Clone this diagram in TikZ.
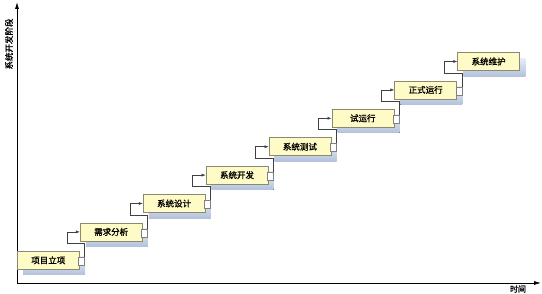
\documentclass[tikz,border=0pt]{standalone}
\usepackage{fontspec}
\newfontfamily\cjk{Noto Sans CJK SC}[AutoFakeBold=1.2]
\usetikzlibrary{arrows.meta}
\definecolor{boxfill}{HTML}{FFFBC6}
\definecolor{boxline}{HTML}{8A8A72}
\definecolor{shadetop}{HTML}{E8EDF6}
\definecolor{shadebot}{HTML}{B2C1DB}
\begin{document}
\begin{tikzpicture}[x=1pt,y=1pt,
  stagebox/.style={draw=boxline,fill=boxfill,line width=0.6pt,minimum width=62pt,minimum height=18pt,inner sep=0pt,anchor=north west,font=\cjk\bfseries\fontsize{8.5}{9}\selectfont},
  stageshadow/.style={top color=shadetop,bottom color=shadebot,draw=none},
  stagetab/.style={draw=gray,fill=white,line width=0.5pt,minimum width=6pt,minimum height=8pt,inner sep=0pt,anchor=north east},
  link/.style={draw=black!75,line width=0.5pt,-{Latex[length=4pt,width=3pt]}},
  axis/.style={black,line width=0.8pt,-{Latex[length=7pt,width=4pt]}}]
\useasboundingbox (0,0) rectangle (542,294);
% axes
\coordinate (o) at (17,11);
\coordinate (ytop) at (17,292);
\coordinate (xend) at (541,11);
\draw[axis] (o) -- (ytop);
\draw[axis] (o) -- (xend);
\node[font=\cjk\bfseries\fontsize{8.5}{9}\selectfont,rotate=90,inner sep=0pt] (ylab) at (9,250) {系统开发阶段};
\node[font=\cjk\bfseries\fontsize{8}{9}\selectfont,inner sep=0pt] (xlab) at (518,5) {时间};
% shadows
\fill[stageshadow] (23,19) rectangle (85,37);
\fill[stageshadow] (85.9,47.4) rectangle (147.9,65.4);
\fill[stageshadow] (148.8,75.8) rectangle (210.8,93.8);
\fill[stageshadow] (211.7,104.2) rectangle (273.7,122.2);
\fill[stageshadow] (274.6,132.6) rectangle (336.6,150.6);
\fill[stageshadow] (337.5,161) rectangle (399.5,179);
\fill[stageshadow] (400.4,189.4) rectangle (462.4,207.4);
\fill[stageshadow] (463.3,217.8) rectangle (525.3,235.8);
% stages
\node[stagebox] (s1) at (17,43) {项目立项};
\node[stagebox] (s2) at (79.9,71.4) {需求分析};
\node[stagebox] (s3) at (142.8,99.8) {系统设计};
\node[stagebox] (s4) at (205.7,128.2) {系统开发};
\node[stagebox] (s5) at (268.6,156.6) {系统测试};
\node[stagebox] (s6) at (331.5,185) {试运行};
\node[stagebox] (s7) at (394.4,213.4) {正式运行};
\node[stagebox] (s8) at (457.3,241.8) {系统维护};
% tabs
\node[stagetab] (t1) at ([xshift=5pt,yshift=-6pt]s1.north east) {};
\node[stagetab] (t2) at ([xshift=5pt,yshift=-6pt]s2.north east) {};
\node[stagetab] (t3) at ([xshift=5pt,yshift=-6pt]s3.north east) {};
\node[stagetab] (t4) at ([xshift=5pt,yshift=-6pt]s4.north east) {};
\node[stagetab] (t5) at ([xshift=5pt,yshift=-6pt]s5.north east) {};
\node[stagetab] (t6) at ([xshift=5pt,yshift=-6pt]s6.north east) {};
\node[stagetab] (t7) at ([xshift=5pt,yshift=-6pt]s7.north east) {};
% links
\draw[link] (t1.north east) |- ([xshift=-13pt,yshift=-2pt]s2.south west) |- (s2.west);
\draw[link] (t2.north east) |- ([xshift=-13pt,yshift=-2pt]s3.south west) |- (s3.west);
\draw[link] (t3.north east) |- ([xshift=-13pt,yshift=-2pt]s4.south west) |- (s4.west);
\draw[link] (t4.north east) |- ([xshift=-13pt,yshift=-2pt]s5.south west) |- (s5.west);
\draw[link] (t5.north east) |- ([xshift=-13pt,yshift=-2pt]s6.south west) |- (s6.west);
\draw[link] (t6.north east) |- ([xshift=-13pt,yshift=-2pt]s7.south west) |- (s7.west);
\draw[link] (t7.north east) |- ([xshift=-13pt,yshift=-2pt]s8.south west) |- (s8.west);
\end{tikzpicture}
\end{document}
